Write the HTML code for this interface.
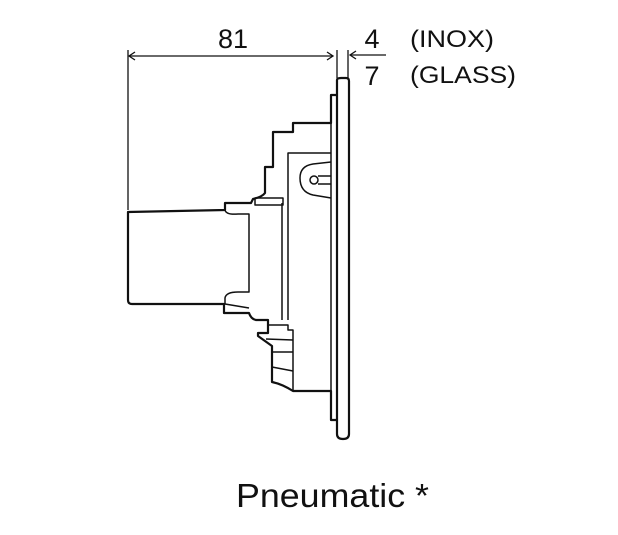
<!DOCTYPE html>
<html><head><meta charset="utf-8"><style>
html,body{margin:0;padding:0;background:#fff;width:618px;height:535px;overflow:hidden}
svg{display:block}
text{font-family:"Liberation Sans",Arial,sans-serif;fill:#111}
</style></head><body>
<svg width="618" height="535" viewBox="0 0 618 535" xmlns="http://www.w3.org/2000/svg">
<g fill="none" stroke="#111" stroke-width="1.3">
<line x1="128" y1="50" x2="128" y2="210"/>
<line x1="129" y1="56" x2="333" y2="56"/>
<polyline points="135,52 129,56 135,60"/>
<polyline points="327,52 333,56 327,60"/>
<line x1="337" y1="50" x2="337" y2="78"/>
<line x1="348" y1="50" x2="348" y2="78"/>
<line x1="351" y1="55" x2="386" y2="55"/>
<polyline points="356,51 350,55 356,59"/>
</g>
<g fill="none" stroke="#111" stroke-width="2.2" stroke-linejoin="round">
<path d="M337,80 Q337,78 341,78 L346,78 Q349,78 349,81 L349,434 Q349,439 343,439 Q337,439 337,434 Z"/>
<path d="M337,95 L331,95 L331,123 L293,123 L293,132 L273,132 L273,167 L265,167 L265,193 Q262,197 253,199 L251,203 L225,203 L225,210 L128,212 L128,300 Q128,304 132,304 L224,304 L224,313 L249,313 Q251,319 256,320 L268,320 L268,333 L258,333 L258,336 L272,346 L272,382 Q282,384 293,391 L331,391 L331,420 L337,420"/>
</g>
<g fill="none" stroke="#111" stroke-width="1.5" stroke-linejoin="round">
<line x1="331" y1="95" x2="331" y2="420"/>
<path d="M288,320 L288,153 L331,153"/>
<line x1="282" y1="203" x2="282" y2="320"/>
<rect x="255" y="198" width="28" height="7"/>
<path d="M331,162 L313,164 Q300,166 300,178 Q300,192 313,195 L331,198"/>
<circle cx="314" cy="180" r="4"/>
<line x1="318" y1="176" x2="331" y2="176"/>
<line x1="318" y1="184" x2="331" y2="184"/>
<path d="M225,210 Q226,215 238,214 L249,214 L249,292 L238,292 Q226,292 225,298 L225,304"/>
<path d="M225,304 L249,308"/>
<path d="M268,320 L268,325 L288,325 L288,330 L293,330 L293,391"/>
<line x1="266" y1="339" x2="293" y2="340"/>
<line x1="272" y1="352" x2="293" y2="352"/>
<line x1="272" y1="367" x2="293" y2="371"/>
</g>
<text x="233" y="48" font-size="27" text-anchor="middle">81</text>
<text x="372" y="48" font-size="27" text-anchor="middle">4</text>
<text x="372" y="85" font-size="27" text-anchor="middle">7</text>
<text x="410" y="47" font-size="24" textLength="84" lengthAdjust="spacingAndGlyphs">(INOX)</text>
<text x="410" y="83" font-size="24" textLength="106" lengthAdjust="spacingAndGlyphs">(GLASS)</text>
<text x="236" y="507" font-size="33" textLength="193" lengthAdjust="spacingAndGlyphs">Pneumatic *</text>
</svg>
</body></html>
